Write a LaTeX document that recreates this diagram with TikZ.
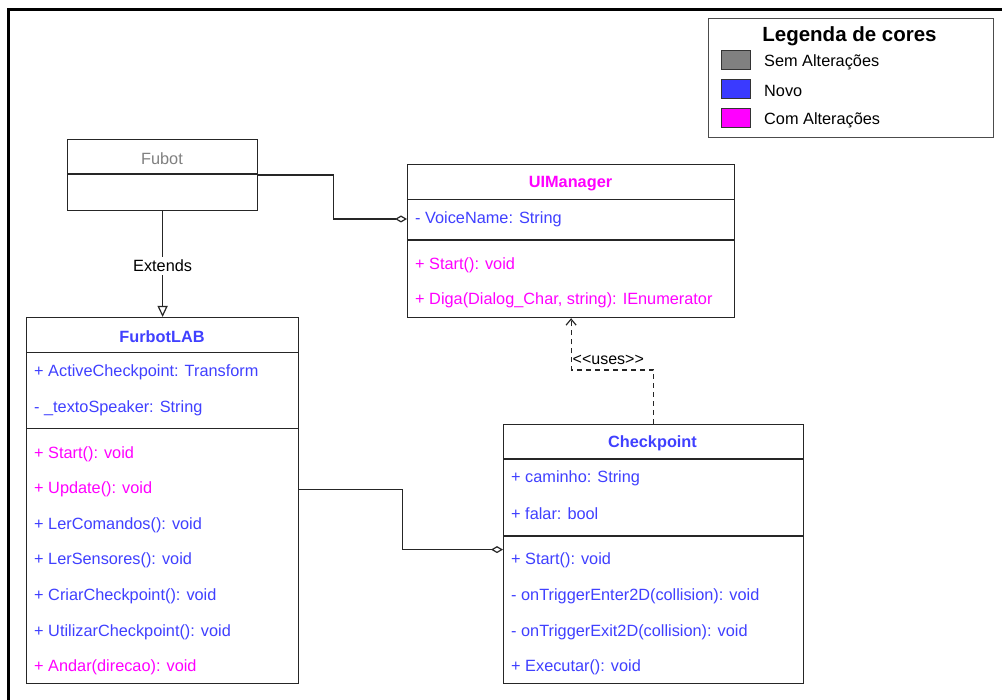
\documentclass[tikz,border=0pt]{standalone}
\usepackage{fontspec}
\setmainfont{Liberation Sans}
\usetikzlibrary{arrows.meta}
\definecolor{novo}{RGB}{64,64,255}
\definecolor{alterado}{RGB}{255,0,255}
\definecolor{semalt}{RGB}{128,128,128}
\tikzset{
  classe/.style={draw=black!85, line width=1.2pt, anchor=north west, inner sep=0pt, fill=white},
  membro/.style={anchor=west, inner sep=0pt, yshift=-1.5pt, font=\fontsize{16.3}{19}\selectfont},
  titulo/.style={inner sep=0pt, yshift=-1.5pt, font=\fontsize{16.3}{19}\selectfont\bfseries},
  liga/.style={draw=black!85, line width=1.2pt},
  diamante/.style={-{Diamond[open,length=12pt,width=7pt]}},
  amostra/.style={draw=black!80, line width=1pt, anchor=north west, minimum width=29pt, minimum height=19pt, inner sep=0pt},
}
\begin{document}
\begin{tikzpicture}[x=1pt,y=-1pt]
\useasboundingbox (0,0) rectangle (1002,700);
% moldura
\draw[line width=3.5pt] (8.5,700) -- (8.5,9.5) -- (1002,9.5);

% legenda de cores
\node[classe, draw=black!70, minimum width=285pt, minimum height=119pt] (legenda) at (707.5,18) {};
\node[inner sep=0pt, yshift=-2pt, font=\fontsize{20.5}{24}\selectfont\bfseries] (legtit) at (849.5,34) {Legenda de cores};
\node[amostra, fill=semalt] (cor1) at (720.5,50.5) {};
\node[amostra, fill=novo!90!blue] (cor2) at (720.5,79.5) {};
\node[amostra, fill=alterado] (cor3) at (720.5,108.5) {};
\node[membro] (leg1) at (764,60.5) {Sem Alterações};
\node[membro] (leg2) at (764,89.5) {Novo};
\node[membro] (leg3) at (764,118.5) {Com Alterações};

% Fubot
\node[classe, minimum width=190pt, minimum height=71pt] (fubot) at (67,139) {};
\draw[liga] (67,174) -- (257,174);
\node[membro, anchor=center, text=semalt] (fubottit) at (162,157) {Fubot};

% UIManager
\node[classe, minimum width=327pt, minimum height=153pt] (uim) at (407,164) {};
\draw[liga] (407,199.5) -- (734,199.5);
\draw[liga] (407,240) -- (734,240);
\node[titulo, text=alterado] (uimtit) at (570.5,182) {UIManager};
\node[membro, text=novo] (uimvoz) at (415,217.5) {- VoiceName: String};
\node[membro, text=alterado] (uimstart) at (415,264) {+ Start(): void};
\node[membro, text=alterado] (uimdiga) at (415,299) {+ Diga(Dialog\_Char, string): IEnumerator};

% FurbotLAB
\node[classe, minimum width=272pt, minimum height=366pt] (flab) at (26,317) {};
\draw[liga] (26,352.5) -- (298,352.5);
\draw[liga] (26,428.5) -- (298,428.5);
\node[titulo, text=novo] (flabtit) at (162,335) {FurbotLAB};
\node[membro, text=novo] (flabcp) at (34,370.5) {+ ActiveCheckpoint: Transform};
\node[membro, text=novo] (flabtxt) at (34,406.5) {- \_textoSpeaker: String};
\node[membro, text=alterado] (flabstart) at (34,452.5) {+ Start(): void};
\node[membro, text=alterado] (flabupd) at (34,488) {+ Update(): void};
\node[membro, text=novo] (flabcmd) at (34,523.5) {+ LerComandos(): void};
\node[membro, text=novo] (flabsens) at (34,559) {+ LerSensores(): void};
\node[membro, text=novo] (flabcriar) at (34,594.5) {+ CriarCheckpoint(): void};
\node[membro, text=novo] (flabutil) at (34,630.5) {+ UtilizarCheckpoint(): void};
\node[membro, text=alterado] (flabandar) at (34,665.5) {+ Andar(direcao): void};

% Checkpoint
\node[classe, minimum width=300pt, minimum height=259pt] (chk) at (503,424) {};
\draw[liga] (503,459) -- (803,459);
\draw[liga] (503,536) -- (803,536);
\node[titulo, text=novo] (chktit) at (652.5,441.5) {Checkpoint};
\node[membro, text=novo] (chkcam) at (511,477) {+ caminho: String};
\node[membro, text=novo] (chkfalar) at (511,512.5) {+ falar: bool};
\node[membro, text=novo] (chkstart) at (511,558.5) {+ Start(): void};
\node[membro, text=novo] (chkenter) at (511,595) {- onTriggerEnter2D(collision): void};
\node[membro, text=novo] (chkexit) at (511,630.5) {- onTriggerExit2D(collision): void};
\node[membro, text=novo] (chkexec) at (511,665.5) {+ Executar(): void};

% ligacoes
\draw[liga, diamante] (fubot.east) -- ++(75,0) |- (uimvoz -| uim.west);
\draw[liga, -{Triangle[open,length=11pt,width=10pt]}] (fubot.south) -- node[fill=white, inner sep=3pt, yshift=-1.5pt, font=\fontsize{16.3}{19}\selectfont] (extends) {Extends} (flab.north);
\draw[liga, dash pattern=on 5pt off 4pt, -{Straight Barb[length=6pt,width=10pt]}] (chk.north) -- ++(0,-54) -| (uim.south);
\node[membro, font=\fontsize{16}{18}\selectfont] (uses) at (572.5,358.5) {{<}{<}uses{>}{>}};
\draw[liga, diamante] (flab.east |- flabupd) -- ++(103,0) |- ([yshift=4.5pt]chk.west);
\end{tikzpicture}
\end{document}
